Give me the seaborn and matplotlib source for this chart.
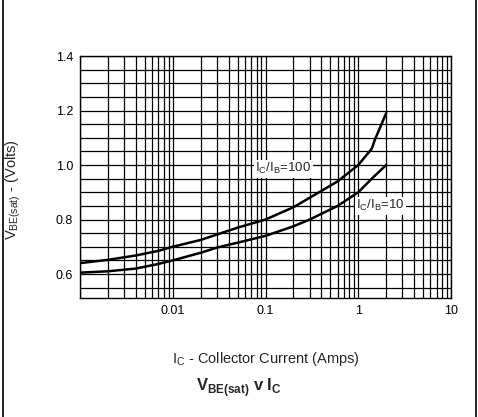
import numpy as np
import pandas as pd
import matplotlib
matplotlib.use("Agg")
import matplotlib.pyplot as plt
from matplotlib.lines import Line2D
from matplotlib.ticker import FixedLocator, NullFormatter
import seaborn as sns

# ---- data ----
ic_100 = [0.001, 0.002, 0.004, 0.007, 0.01, 0.02, 0.03, 0.05, 0.1, 0.2, 0.3, 0.6, 1.0, 1.4, 1.5, 2.0]
vbe_100 = [0.640, 0.652, 0.668, 0.685, 0.700, 0.725, 0.745, 0.770, 0.800, 0.845, 0.880, 0.940, 1.000, 1.060, 1.090, 1.190]
ic_10 = [0.001, 0.002, 0.004, 0.007, 0.01, 0.02, 0.03, 0.05, 0.1, 0.2, 0.3, 0.6, 1.0, 1.4, 2.0]
vbe_10 = [0.605, 0.610, 0.620, 0.637, 0.650, 0.678, 0.697, 0.715, 0.740, 0.775, 0.800, 0.850, 0.900, 0.950, 1.000]

x_ticks = [0.01, 0.1, 1, 10]
x_tick_labels = ["0.01", "0.1", "1", "10"]
y_ticks = [0.6, 0.8, 1.0, 1.2, 1.4]
y_tick_labels = ["0.6", "0.8", "1.0", "1.2", "1.4"]

df = pd.DataFrame({
    "ic": ic_100 + ic_10,
    "vbe": vbe_100 + vbe_10,
    "ratio": ["100"] * len(ic_100) + ["10"] * len(ic_10),
})

sns.set_style("white")
plt.rcParams["font.family"] = ["Liberation Sans", "DejaVu Sans"]
plt.rcParams["mathtext.fontset"] = "custom"
plt.rcParams["mathtext.rm"] = "Liberation Sans"
plt.rcParams["mathtext.bf"] = "Liberation Sans:bold"

fig = plt.figure(figsize=(4.78, 4.17), dpi=100)
ax = fig.add_axes([0.1674, 0.2854, 0.7761, 0.5803])

sns.lineplot(data=df, x="ic", y="vbe", hue="ratio", palette=["black", "black"],
             linewidth=1.8, legend=False, ax=ax, sort=False, estimator=None, zorder=5)

ax.set_xscale("log")
ax.set_xlim(0.001, 10)
ax.set_ylim(0.512, 1.4)

# grid lines
vgrid = [m * 10.0 ** e for e in range(-3, 1) for m in range(1, 10)] + [10]
hgrid = list(np.round(np.arange(0.55, 1.401, 0.05), 2))
ax.xaxis.set_minor_locator(FixedLocator(vgrid))
ax.xaxis.set_minor_formatter(NullFormatter())
ax.yaxis.set_minor_locator(FixedLocator(hgrid))
ax.grid(True, which="both", color="black", linewidth=0.9)

ax.set_xticks(x_ticks)
ax.set_xticklabels(x_tick_labels)
ax.set_yticks(y_ticks)
ax.set_yticklabels(y_tick_labels)
ax.tick_params(which="both", length=0, labelsize=9, colors="black", pad=5)
for s in ax.spines.values():
    s.set_color("black")
    s.set_linewidth(1.0)

ax.set_ylabel(r"V$_\mathregular{BE(sat)}$ - (Volts)", fontsize=10.5)
ax.yaxis.set_label_coords(-0.155, 0.45)
ax.set_xlabel(r"I$_\mathregular{C}$ - Collector Current (Amps)", fontsize=10.5)
ax.xaxis.set_label_coords(0.5, -0.215)

bbox = dict(facecolor="white", edgecolor="none", pad=1.0)
ax.text(0.077, 0.986, r"I$_\mathregular{C}$/I$_\mathregular{B}$=100", fontsize=9.5,
        va="center", ha="left", bbox=bbox, zorder=6)
ax.text(0.95, 0.85, r"I$_\mathregular{C}$/I$_\mathregular{B}$=10", fontsize=9.5,
        va="center", ha="left", bbox=bbox, zorder=6)

fig.text(0.5, 1 - 388 / 417, r"V$_\mathbf{BE(sat)}$ v I$_\mathbf{C}$",
         fontsize=12, fontweight="bold", ha="center", va="center")

# side frame lines
fig.add_artist(Line2D([3 / 478, 3 / 478], [0, 1], color="black", linewidth=1.2))
fig.add_artist(Line2D([476 / 478, 476 / 478], [0, 1], color="black", linewidth=1.2))

fig.savefig("out.png", dpi=100)
